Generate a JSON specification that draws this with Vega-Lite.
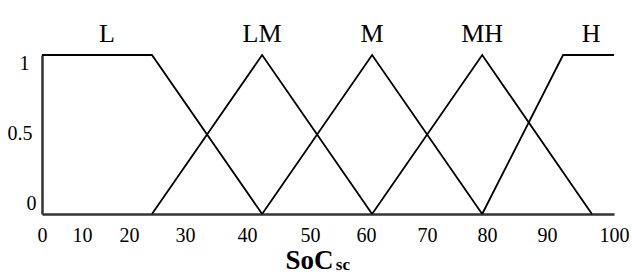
{
  "$schema": "https://vega.github.io/schema/vega-lite/v6.json",
  "width": 573,
  "height": 159,
  "autosize": "none",
  "padding": {"left": 42, "top": 55, "right": 17, "bottom": 61},
  "background": "white",
  "config": {"view": {"stroke": null}},
  "datasets": {
    "mf": [
      {"set": "L", "soc": 0, "mu": 1},
      {"set": "L", "soc": 24.1, "mu": 1},
      {"set": "L", "soc": 42.4, "mu": 0},
      {"set": "LM", "soc": 24.1, "mu": 0},
      {"set": "LM", "soc": 42.4, "mu": 1},
      {"set": "LM", "soc": 61, "mu": 0},
      {"set": "M", "soc": 42.4, "mu": 0},
      {"set": "M", "soc": 61, "mu": 1},
      {"set": "M", "soc": 79.2, "mu": 0},
      {"set": "MH", "soc": 61, "mu": 0},
      {"set": "MH", "soc": 79.2, "mu": 1},
      {"set": "MH", "soc": 96.7, "mu": 0},
      {"set": "H", "soc": 79.2, "mu": 0},
      {"set": "H", "soc": 92.4, "mu": 1},
      {"set": "H", "soc": 100, "mu": 1}
    ],
    "names": [
      {"set": "L", "soc": 15.3},
      {"set": "LM", "soc": 42.4},
      {"set": "M", "soc": 61},
      {"set": "MH", "soc": 79.2},
      {"set": "H", "soc": 96.6}
    ]
  },
  "layer": [
    {
      "data": {"name": "mf"},
      "mark": {"type": "line", "color": "black", "strokeWidth": 1.8, "clip": false},
      "encoding": {
        "x": {
          "field": "soc", "type": "quantitative",
          "scale": {"domain": [0, 10, 20, 30, 40, 50, 60, 70, 80, 90, 100], "range": [0, 40, 87, 143, 205, 268, 324, 385, 445, 505, 572], "clamp": false},
          "axis": {
            "values": [0, 10, 20, 30, 40, 50, 60, 70, 80, 90, 100],
            "format": "d",
            "grid": false, "ticks": false,
            "domainColor": "#333333", "domainWidth": 2.5,
            "labelFont": "Liberation Serif", "labelFontSize": 20, "labelColor": "black",
            "labelPadding": 11, "labelBaseline": "top", "labelFlush": false, "labelOverlap": false,
            "title": "SoC",
            "titleFont": "Liberation Serif", "titleFontSize": 27, "titleFontWeight": "bold", "titleColor": "black",
            "titleX": 267, "titleY": 54, "titleBaseline": "alphabetic", "titleAlign": "center"
          }
        },
        "y": {
          "field": "mu", "type": "quantitative",
          "scale": {"domain": [0, 1]},
          "axis": {
            "values": [0, 0.5, 1],
            "labelExpr": "'' + datum.value",
            "grid": false, "ticks": false,
            "domainColor": "#333333", "domainWidth": 2.5,
            "labelFont": "Liberation Serif", "labelFontSize": 20, "labelColor": "black",
            "labelBaseline": "middle",
            "labelOffset": {"condition": [{"test": "datum.value == 1", "value": 8}, {"test": "datum.value == 0", "value": -11}], "value": -1},
            "labelPadding": {"condition": [{"test": "datum.value == 1", "value": 13}, {"test": "datum.value == 0", "value": 6}], "value": 10},
            "labelFlush": false,
            "title": null
          }
        },
        "detail": {"field": "set"}
      }
    },
    {
      "data": {"name": "names"},
      "mark": {"type": "text", "font": "Liberation Serif", "fontSize": 26, "color": "black", "baseline": "alphabetic", "dy": -13},
      "encoding": {
        "x": {"field": "soc", "type": "quantitative"},
        "y": {"datum": 1, "type": "quantitative"},
        "text": {"field": "set"}
      }
    },
    {
      "data": {"values": [{"sub": "sc"}]},
      "mark": {"type": "text", "font": "Liberation Serif", "fontSize": 17, "fontWeight": "bold", "color": "black", "align": "left", "baseline": "alphabetic", "dy": 56},
      "encoding": {
        "x": {"datum": 54.6, "type": "quantitative"},
        "y": {"datum": 0, "type": "quantitative"},
        "text": {"field": "sub"}
      }
    }
  ]
}
